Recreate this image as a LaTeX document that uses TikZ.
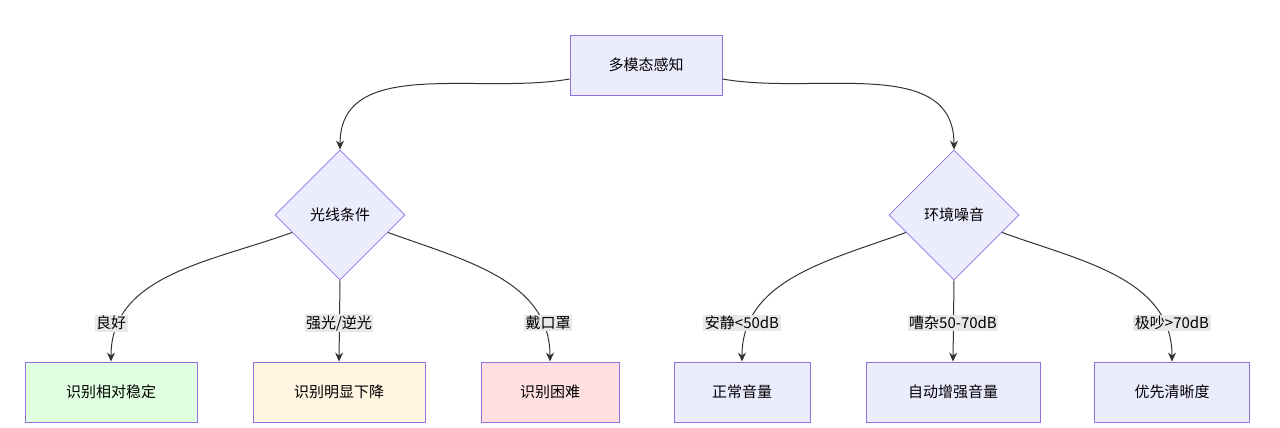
\documentclass[tikz,border=0pt]{standalone}
\usepackage{fontspec}
\setmainfont{Noto Sans CJK SC}
\definecolor{nodeFill}{HTML}{ECECFF}
\definecolor{nodeLine}{HTML}{9370DB}
\definecolor{goodFill}{HTML}{E0FFE0}
\definecolor{midFill}{HTML}{FFF5E0}
\definecolor{badFill}{HTML}{FFE0E0}
\definecolor{edgeGray}{HTML}{333333}
\definecolor{labelGray}{HTML}{E8E8E8}
\usetikzlibrary{shapes.geometric,arrows.meta,positioning}
\tikzset{
  box/.style={draw=nodeLine,fill=nodeFill,line width=0.8pt,minimum height=60pt,font=\fontsize{15}{18}\selectfont},
  choice/.style={diamond,draw=nodeLine,fill=nodeFill,line width=0.8pt,minimum size=130pt,inner sep=0pt,font=\fontsize{15}{18}\selectfont},
  edge/.style={draw=edgeGray,line width=1pt,-{Stealth[length=9pt,width=8pt]}},
  lbl/.style={fill=labelGray,inner sep=1.5pt,font=\fontsize{15}{18}\selectfont}
}
\begin{document}
\begin{tikzpicture}[x=1pt,y=-1pt]
\useasboundingbox (0,0) rectangle (1280,428);
% top node and decisions
\node[box,minimum width=152pt] (sense) at (646,65) {多模态感知};
\node[choice] (light) at (340,215) {光线条件};
\node[choice] (noise) at (954,215) {环境噪音};
% leaves
\node[box,fill=goodFill,minimum width=172pt] (stable) at (111,392) {识别相对稳定};
\node[box,fill=midFill,minimum width=172pt] (drop) at (339,392) {识别明显下降};
\node[box,fill=badFill,minimum width=138pt] (hard) at (550,392) {识别困难};
\node[box,minimum width=136pt] (normal) at (742,392) {正常音量};
\node[box,minimum width=174pt] (boost) at (953,392) {自动增强音量};
\node[box,minimum width=155pt] (clear) at (1172,392) {优先清晰度};
% connectors
\draw[edge] ([yshift=-14pt]sense.west) to[out=190,in=90] (light.north);
\draw[edge] ([yshift=-14pt]sense.east) to[out=-10,in=90] (noise.north);
\draw[edge] (light.200) to[out=200,in=90] (stable.north);
\draw[edge] (light.south) -- (drop.north);
\draw[edge] (light.-20) to[out=-20,in=90] (hard.north);
\draw[edge] (noise.200) to[out=200,in=90] (normal.north);
\draw[edge] (noise.south) -- (boost.north);
\draw[edge] (noise.-20) to[out=-20,in=90] (clear.north);
% edge labels
\node[lbl] (l1) at (111,323) {良好};
\node[lbl] (l2) at (339,323) {强光/逆光};
\node[lbl] (l3) at (548,323) {戴口罩};
\node[lbl] (l4) at (742,323) {安静<50dB};
\node[lbl] (l5) at (953,323) {嘈杂50-70dB};
\node[lbl] (l6) at (1172,323) {极吵>70dB};
\end{tikzpicture}
\end{document}
